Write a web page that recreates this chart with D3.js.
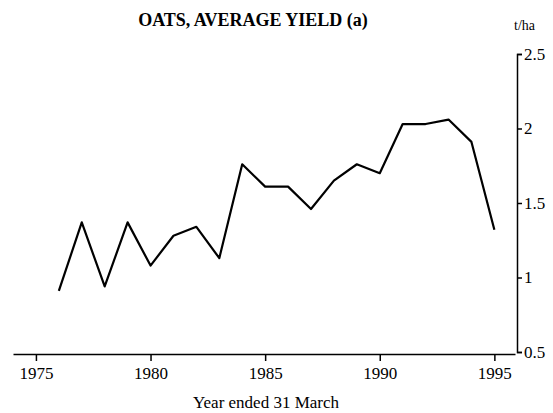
<!DOCTYPE html>
<html>
<head>
<meta charset="utf-8">
<script src="https://cdn.jsdelivr.net/npm/d3@7"></script>
<style>
  body { margin: 0; background: #fff; }
  svg { display: block; font-family: "Liberation Serif", "Times New Roman", serif; }
</style>
</head>
<body>
<div id="chart"></div>
<script>
// Oats, average yield (t/ha), year ended 31 March
const years = [1976, 1977, 1978, 1979, 1980, 1981, 1982, 1983, 1984, 1985,
               1986, 1987, 1988, 1989, 1990, 1991, 1992, 1993, 1994, 1995];
const yieldValues = [0.91, 1.37, 0.94, 1.37, 1.08, 1.28, 1.34, 1.13, 1.76, 1.61,
                     1.61, 1.46, 1.65, 1.76, 1.70, 2.03, 2.03, 2.06, 1.91, 1.32];
const xTicks = [1975, 1980, 1985, 1990, 1995];
const yTicks = [0.5, 1, 1.5, 2, 2.5];

const width = 553;
const height = 413;
const serif = '"Liberation Serif", "Times New Roman", serif';

const data = years.map((yr, i) => ({ year: yr, value: yieldValues[i] }));

const svg = d3
  .select("#chart")
  .append("svg")
  .attr("width", width)
  .attr("height", height);

// Scales
const x = d3.scaleLinear().domain([1974, 1995.9]).range([13, 515]);
const y = d3.scaleLinear().domain([0.5, 2.5]).range([352, 54]);

// X axis (bottom)
const xAxis = svg
  .append("g")
  .attr("transform", "translate(0,354)")
  .call(d3.axisBottom(x).tickValues(xTicks).tickFormat(d3.format("d"))
    .tickSize(7).tickSizeOuter(0).tickPadding(6));
xAxis.attr("font-family", serif).attr("font-size", 17);
xAxis.selectAll("text").attr("fill", "#000");
xAxis.selectAll("path, line").attr("stroke", "#000").attr("stroke-width", 1.5);

// Y axis (right)
const yAxis = svg
  .append("g")
  .attr("transform", "translate(517,0)")
  .call(d3.axisRight(y).tickValues(yTicks).tickFormat(d3.format("")).tickSize(5)
    .tickSizeOuter(5).tickPadding(2));
yAxis.attr("font-family", serif).attr("font-size", 17);
yAxis.selectAll("text").attr("fill", "#000");
yAxis.selectAll("path, line").attr("stroke", "#000").attr("stroke-width", 1.5);

// Line
const line = d3
  .line()
  .x((d) => x(d.year))
  .y((d) => y(d.value));

svg
  .append("path")
  .datum(data)
  .attr("fill", "none")
  .attr("stroke", "#000")
  .attr("stroke-width", 2.2)
  .attr("stroke-linejoin", "round")
  .attr("d", line);

// Title
svg
  .append("text")
  .attr("x", 253)
  .attr("y", 26)
  .attr("text-anchor", "middle")
  .style("font-size", "18px")
  .style("font-weight", "bold")
  .text("OATS, AVERAGE YIELD (a)");

// Unit label
svg
  .append("text")
  .attr("x", 514)
  .attr("y", 30)
  .style("font-size", "14px")
  .text("t/ha");

// X axis label
svg
  .append("text")
  .attr("x", 266)
  .attr("y", 408)
  .attr("text-anchor", "middle")
  .style("font-size", "17px")
  .text("Year ended 31 March");
</script>
</body>
</html>
